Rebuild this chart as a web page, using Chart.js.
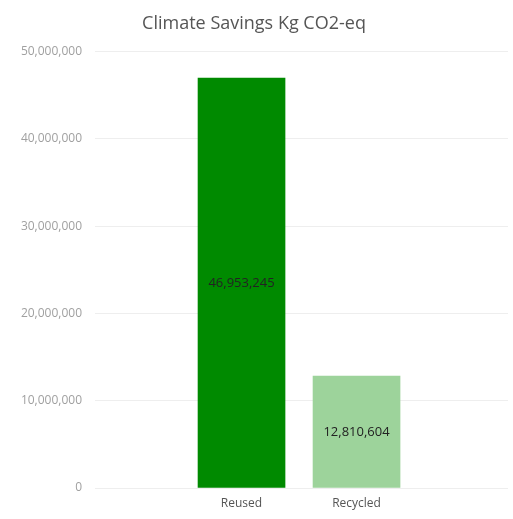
<!DOCTYPE html>
<html>
<head>
<meta charset="utf-8">
<script src="https://cdn.jsdelivr.net/npm/chart.js@4/dist/chart.umd.min.js"></script>
<style>
html,body{margin:0;padding:0;background:#fff;}
#wrap{width:513px;height:519px;position:relative;}
</style>
</head>
<body>
<div id="wrap"><canvas id="c" width="513" height="519"></canvas></div>
<script>
const categories = ['Reused', 'Recycled'];
const values = [46953245, 12810604];
const barColors = ['#008a00', '#9dd39b'];
const yTicks = [0, 10000000, 20000000, 30000000, 40000000, 50000000];
const titleText = 'Climate Savings Kg CO2-eq';

const fmt = v => v.toLocaleString('en-US');

const labelPlugin = {
  id: 'barLabels',
  afterDatasetsDraw(chart) {
    const ctx = chart.ctx;
    const meta = chart.getDatasetMeta(0);
    ctx.save();
    ctx.font = '13px "Open Sans"';
    ctx.fillStyle = '#222222';
    ctx.textAlign = 'center';
    ctx.textBaseline = 'middle';
    meta.data.forEach((bar, i) => {
      const p = bar.getProps(['x', 'y', 'base'], true);
      ctx.fillText(fmt(values[i]), p.x, (p.y + p.base) / 2);
    });
    ctx.restore();
  }
};

new Chart(document.getElementById('c'), {
  type: 'bar',
  data: {
    datasets: [{
      data: values.map((v, i) => ({x: i, y: v})),
      backgroundColor: barColors,
      borderWidth: 0,
      barThickness: 87
    }]
  },
  options: {
    responsive: false,
    animation: false,
    devicePixelRatio: 1,
    layout: {padding: {left: 0, right: 5, top: 0, bottom: 0}},
    plugins: {
      legend: {display: false},
      tooltip: {enabled: false},
      title: {
        display: true,
        text: titleText,
        color: '#555555',
        font: {family: '"Open Sans"', size: 18, weight: 'normal'},
        padding: {top: 13, bottom: 17}
      }
    },
    scales: {
      x: {
        type: 'linear',
        min: -1.274,
        max: 2.317,
        offset: false,
        bounds: 'data',
        grid: {display: false, drawTicks: false},
        border: {display: false},
        afterBuildTicks(scale) {
          scale.ticks = categories.map((c, i) => ({value: i}));
        },
        afterFit(scale) { scale.height = 31; },
        ticks: {
          color: '#555555',
          font: {family: '"Open Sans"', size: 12},
          padding: 8,
          callback: v => categories[v] ?? ''
        }
      },
      y: {
        min: 0,
        max: 50000000,
        afterBuildTicks(scale) {
          scale.ticks = yTicks.map(v => ({value: v}));
        },
        afterFit(scale) { scale.width = 95; },
        grid: {color: '#eeeeee', drawTicks: false, lineWidth: 1},
        border: {display: false},
        ticks: {
          color: '#a0a0a0',
          font: {family: '"Open Sans"', size: 12},
          padding: 13,
          callback: v => fmt(v)
        }
      }
    }
  },
  plugins: [labelPlugin]
});
</script>
</body>
</html>
